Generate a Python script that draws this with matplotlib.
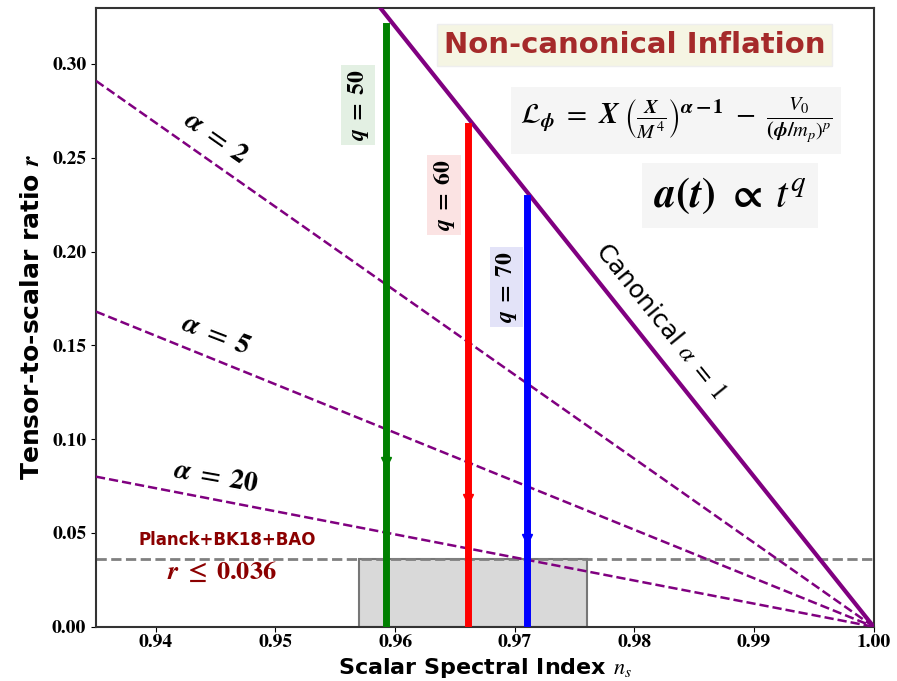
import numpy as np
import matplotlib.pyplot as plt
from matplotlib.patches import Rectangle

plt.rcParams['mathtext.fontset'] = 'stix'
plt.rcParams['font.family'] = 'DejaVu Sans'

# canonical / non-canonical r(n_s) lines, all ending at (1, 0)
ns_edge = [0.935, 1.0]
r_canon = [0.52, 0.0]          # r = 8 (1 - n_s)
alphas = [2, 5, 20]
r_alpha_left = [0.291, 0.168, 0.080]

# power law q values
q_vals = [50, 60, 70]
q_ns = [0.9592, 0.9661, 0.9710]
q_rtop = [0.320, 0.2667, 0.2286]
q_rmark = [0.088, 0.068, 0.047]
q_colors = ['green', 'red', 'blue']

# Planck+BK18+BAO bound
r_bound = 0.036
ns_box = [0.957, 0.976]

fig = plt.figure(figsize=(8.97, 6.81), dpi=100)
ax = fig.add_axes([0.107, 0.0797, 0.867, 0.909])

ax.add_patch(Rectangle((ns_box[0], 0), ns_box[1] - ns_box[0], r_bound,
                       facecolor='#d9d9d9', edgecolor='#777777', lw=1.5, zorder=1))
ax.axhline(r_bound, color='gray', ls='--', lw=2, zorder=2)

ax.plot(ns_edge, r_canon, color='purple', lw=3, zorder=3)
for a, r0 in zip(alphas, r_alpha_left):
    ax.plot(ns_edge, [r0, 0.0], color='purple', ls='--', lw=1.8, zorder=3)

for ns, rt, rm, c in zip(q_ns, q_rtop, q_rmark, q_colors):
    ax.plot([ns, ns], [0, rt], color=c, lw=5, zorder=4)
    ax.plot([ns], [rm], marker='v', color=c, ms=7, zorder=5)

# labels on lines
ax.text(0.945, 0.261, r'$\boldsymbol{\alpha\ =\ 2}$', fontsize=20, rotation=-35,
        ha='center', va='center')
ax.text(0.945, 0.156, r'$\boldsymbol{\alpha\ =\ 5}$', fontsize=20, rotation=-21,
        ha='center', va='center')
ax.text(0.945, 0.080, r'$\boldsymbol{\alpha\ =\ 20}$', fontsize=20, rotation=-10,
        ha='center', va='center')
ax.text(0.9822, 0.163, r'Canonical $\alpha\ =\ 1$', fontsize=18, rotation=-51,
        ha='center', va='center')

q_bg = ['#e3f0e3', '#fbe3e3', '#e3e3f8']
q_xy = [(0.9569, 0.278), (0.9641, 0.230), (0.9693, 0.181)]
for q, (x, y), bg in zip(q_vals, q_xy, q_bg):
    ax.text(x, y, r'$\boldsymbol{q\ =\ %d}$' % q, fontsize=17, rotation=90,
            ha='center', va='center',
            bbox=dict(facecolor=bg, edgecolor='none', pad=3))

ax.text(0.980, 0.310, 'Non-canonical Inflation', fontsize=21, fontweight='bold',
        color='brown', ha='center', va='center',
        bbox=dict(facecolor='#f5f5e3', edgecolor='#eeeeee', pad=5))
ax.text(0.9835, 0.270,
        r'$\boldsymbol{\mathcal{L}}_{\boldsymbol{\phi}}\ =\ \boldsymbol{X}\ \left(\frac{\boldsymbol{X}}{\boldsymbol{M^4}}\right)^{\boldsymbol{\alpha-1}}\ -\ \frac{\boldsymbol{V_0}}{\boldsymbol{(\phi/m_p)^p}}$',
        fontsize=21, ha='center', va='center',
        bbox=dict(facecolor='#f5f5f5', edgecolor='none', pad=6))
ax.text(0.988, 0.230, r'$\boldsymbol{a(t)\ \propto\ t^q}$', fontsize=30,
        ha='center', va='center',
        bbox=dict(facecolor='#f5f5f5', edgecolor='none', pad=8))

ax.text(0.946, 0.046, 'Planck+BK18+BAO', fontsize=12, fontweight='bold',
        color='darkred', ha='center', va='center')
ax.text(0.9455, 0.0285, r'$\boldsymbol{r\ \leq\ 0.036}$', fontsize=19,
        color='darkred', ha='center', va='center')

ax.set_xlim(0.935, 1.0)
ax.set_ylim(0, 0.33)
xt = [0.94, 0.95, 0.96, 0.97, 0.98, 0.99, 1.00]
yt = [0.00, 0.05, 0.10, 0.15, 0.20, 0.25, 0.30]
ax.set_xticks(xt)
ax.set_xticklabels(['%.2f' % v for v in xt], fontsize=14,
                   fontfamily='STIXGeneral', fontweight='bold')
ax.set_yticks(yt)
ax.set_yticklabels(['%.2f' % v for v in yt], fontsize=14,
                   fontfamily='STIXGeneral', fontweight='bold')
ax.tick_params(axis='x', pad=2)
for s in ax.spines.values():
    s.set_color('#333333')
    s.set_linewidth(1.5)

ax.set_xlabel(r'Scalar Spectral Index $\boldsymbol{n_s}$', fontsize=16,
              fontweight='bold', va='bottom')
ax.xaxis.set_label_coords(0.5, -0.086)
ax.set_ylabel(r'Tensor-to-scalar ratio $\boldsymbol{r}$', fontsize=18,
              fontweight='bold', labelpad=6)

fig.savefig('out.png', dpi=100)
